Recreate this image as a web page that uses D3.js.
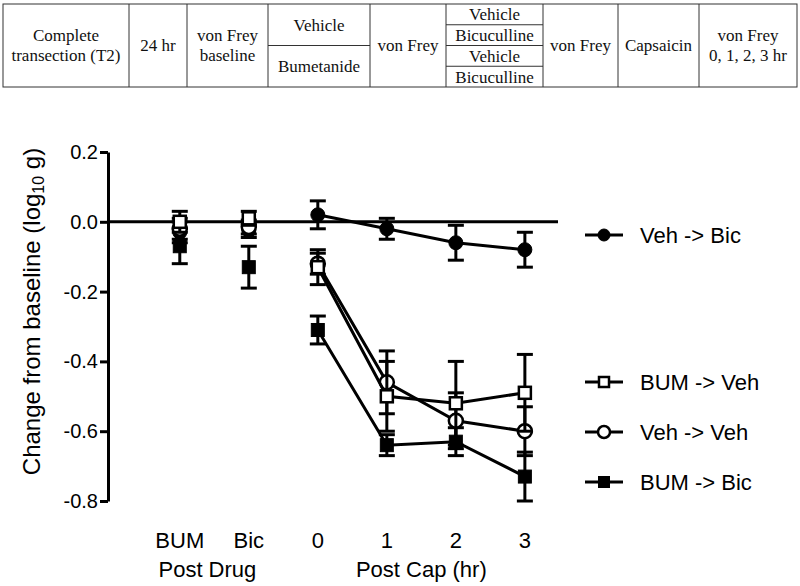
<!DOCTYPE html>
<html>
<head>
<meta charset="utf-8">
<script src="https://cdn.jsdelivr.net/npm/d3@7"></script>
<style>
body { margin: 0; background: #fff; }
svg { display: block; }
</style>
</head>
<body>
<svg id="chart" width="800" height="586"></svg>
<script>
// protocol table (one entry per column, each column split into stacked cells)
var protocol = [
  [["Complete", "transection (T2)"]],
  [["24 hr"]],
  [["von Frey", "baseline"]],
  [["Vehicle"], ["Bumetanide"]],
  [["von Frey"]],
  [["Vehicle"], ["Bicuculline"], ["Vehicle"], ["Bicuculline"]],
  [["von Frey"]],
  [["Capsaicin"]],
  [["von Frey", "0, 1, 2, 3 hr"]]
];

// x categories
var xLabels = ["BUM", "Bic", "0", "1", "2", "3"];
var groupLabels = ["Post Drug", "Post Cap (hr)"];
var yTicks = [0.2, 0.0, -0.2, -0.4, -0.6, -0.8];

// series: means and SEM per category (BUM, Bic, 0, 1, 2, 3 hr)
var seriesNames = ["Veh -> Bic", "BUM -> Veh", "Veh -> Veh", "BUM -> Bic"];
var seriesSymbols = ["filledCircle", "openSquare", "openCircle", "filledSquare"];
var vehBic = [-0.03, -0.025, 0.02, -0.02, -0.06, -0.08];
var vehBicErr = [0.03, 0.02, 0.04, 0.03, 0.05, 0.05];
var bumVeh = [0.0, 0.01, -0.13, -0.50, -0.52, -0.49];
var bumVehErr = [0.03, 0.02, 0.05, 0.10, 0.12, 0.11];
var vehVeh = [-0.02, -0.015, -0.12, -0.46, -0.57, -0.60];
var vehVehErr = [0.03, 0.02, 0.03, 0.09, 0.08, 0.07];
var bumBic = [-0.07, -0.13, -0.31, -0.64, -0.63, -0.73];
var bumBicErr = [0.05, 0.06, 0.04, 0.03, 0.04, 0.07];
var seriesValues = [vehBic, bumVeh, vehVeh, bumBic];
var seriesErrors = [vehBicErr, bumVehErr, vehVehErr, bumBicErr];

var svg = d3.select("#chart");

// ---- table ----
var colEdges = [3, 129, 187, 268, 370, 446, 543, 618, 699, 797];
var tTop = 4, tBottom = 87;
var table = svg.append("g").attr("class", "table");
table.append("rect").attr("x", colEdges[0]).attr("y", tTop)
  .attr("width", colEdges[colEdges.length - 1] - colEdges[0]).attr("height", tBottom - tTop)
  .attr("fill", "none").attr("stroke", "#333").attr("stroke-width", 1);

protocol.forEach(function (cells, i) {
  var x0 = colEdges[i], x1 = colEdges[i + 1];
  if (i > 0) {
    table.append("line").attr("x1", x0).attr("x2", x0).attr("y1", tTop).attr("y2", tBottom)
      .attr("stroke", "#333").attr("stroke-width", 1);
  }
  var h = (tBottom - tTop) / cells.length;
  cells.forEach(function (lines, j) {
    var cy = tTop + h * j + h / 2;
    if (j > 0) {
      table.append("line").attr("x1", x0).attr("x2", x1).attr("y1", tTop + h * j).attr("y2", tTop + h * j)
        .attr("stroke", "#333").attr("stroke-width", 1);
    }
    var lh = 20;
    lines.forEach(function (s, k) {
      table.append("text")
        .attr("x", (x0 + x1) / 2)
        .attr("y", cy + (k - (lines.length - 1) / 2) * lh)
        .attr("dy", "0.35em")
        .attr("text-anchor", "middle")
        .style("font-family", "Liberation Serif, Times New Roman, serif")
        .style("font-size", "17px")
        .attr("fill", "#111")
        .text(s);
    });
  });
});

// ---- plot ----
var sans = "Liberation Sans, Arial, Helvetica, sans-serif";
var x = d3.scaleLinear().domain([-1.04, 5.48]).range([108, 558]);
var y = d3.scaleLinear().domain([-0.8, 0.2]).range([501, 152]);

var yAxis = d3.axisLeft(y).tickValues(yTicks).tickSize(8).tickSizeOuter(0)
  .tickFormat(function (d) { return d3.format(".1f")(d).replace("\u2212", "-"); });
var ga = svg.append("g").attr("transform", "translate(108,0)").call(yAxis);
ga.select(".domain").attr("stroke-width", 3).attr("stroke", "#000");
ga.selectAll(".tick line").attr("stroke-width", 3).attr("stroke", "#000");
ga.selectAll(".tick text").style("font-family", sans).style("font-size", "20px")
  .attr("fill", "#000").attr("x", -10);

// zero line
svg.append("line").attr("x1", x(-1.04)).attr("x2", x(5.48)).attr("y1", y(0)).attr("y2", y(0))
  .attr("stroke", "#000").attr("stroke-width", 3);

// y label
var yl = svg.append("text")
  .attr("transform", "translate(40," + (y(-0.3) - 15) + ") rotate(-90)")
  .attr("text-anchor", "middle")
  .style("font-family", sans).style("font-size", "24px").attr("fill", "#000");
yl.append("tspan").text("Change from baseline (log");
yl.append("tspan").attr("baseline-shift", "-25%").style("font-size", "16px").text("10");
yl.append("tspan").text(" g)");

// x labels
svg.selectAll(".xlab").data(xLabels).enter().append("text")
  .attr("x", function (d, i) { return x(i); })
  .attr("y", 548)
  .attr("text-anchor", "middle")
  .style("font-family", sans).style("font-size", "22px").attr("fill", "#000")
  .text(function (d) { return d; });
svg.append("text").attr("x", x(0.4)).attr("y", 577).attr("text-anchor", "middle")
  .style("font-family", sans).style("font-size", "22px").text(groupLabels[0]);
svg.append("text").attr("x", (x(2) + x(5)) / 2).attr("y", 577).attr("text-anchor", "middle")
  .style("font-family", sans).style("font-size", "22px").text(groupLabels[1]);

function drawSymbol(g, type, cx, cy, size) {
  if (type === "filledCircle" || type === "openCircle") {
    g.append("circle").attr("cx", cx).attr("cy", cy).attr("r", size / 2)
      .attr("fill", type === "filledCircle" ? "#000" : "#fff")
      .attr("stroke", "#000").attr("stroke-width", type === "filledCircle" ? 1 : 2.5);
  } else {
    var s = type === "filledSquare" ? size - 1 : size - 2;
    g.append("rect").attr("x", cx - s / 2).attr("y", cy - s / 2).attr("width", s).attr("height", s)
      .attr("fill", type === "filledSquare" ? "#000" : "#fff")
      .attr("stroke", "#000").attr("stroke-width", type === "filledSquare" ? 1 : 2.5);
  }
}

// draw order: filled first, open on top
var order = [3, 0, 2, 1];
var capW = 8;
order.forEach(function (si) {
  var vals = seriesValues[si], errs = seriesErrors[si];
  var g = svg.append("g").attr("class", "series");
  // connecting line only over Post Cap points
  var line = d3.line().x(function (d) { return x(d.i); }).y(function (d) { return y(d.v); });
  var pts = vals.map(function (v, i) { return { i: i, v: v, e: errs[i] }; });
  g.append("path").datum(pts.slice(2)).attr("d", line)
    .attr("fill", "none").attr("stroke", "#000").attr("stroke-width", 3);
  pts.forEach(function (p) {
    var cx = x(p.i);
    g.append("line").attr("x1", cx).attr("x2", cx).attr("y1", y(p.v + p.e)).attr("y2", y(p.v - p.e))
      .attr("stroke", "#000").attr("stroke-width", 3);
    [p.v + p.e, p.v - p.e].forEach(function (ev) {
      g.append("line").attr("x1", cx - capW).attr("x2", cx + capW).attr("y1", y(ev)).attr("y2", y(ev))
        .attr("stroke", "#000").attr("stroke-width", 3);
    });
  });
  pts.forEach(function (p) {
    drawSymbol(g, seriesSymbols[si], x(p.i), y(p.v), 14);
  });
});

// legend
var legY = [235, 382, 432, 482];
seriesNames.forEach(function (name, i) {
  var g = svg.append("g");
  g.append("line").attr("x1", 585).attr("x2", 623).attr("y1", legY[i]).attr("y2", legY[i])
    .attr("stroke", "#000").attr("stroke-width", 3);
  drawSymbol(g, seriesSymbols[i], 604, legY[i], 12);
  g.append("text").attr("x", 640).attr("y", legY[i]).attr("dy", "0.36em")
    .style("font-family", sans).style("font-size", "22px").attr("fill", "#000").text(name);
});
</script>
</body>
</html>
